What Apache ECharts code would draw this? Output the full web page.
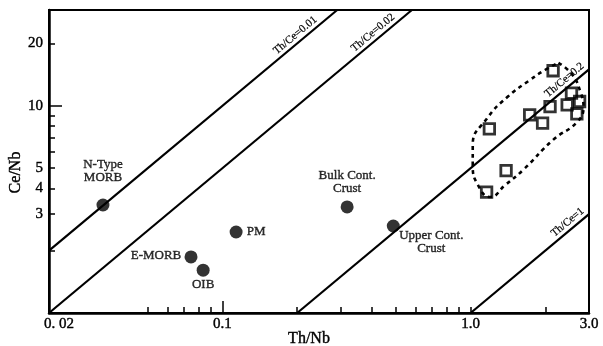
<!DOCTYPE html>
<html><head><meta charset="utf-8">
<script src="https://cdn.jsdelivr.net/npm/echarts@6/dist/echarts.min.js"></script>
<style>html,body{margin:0;padding:0;background:#fff}#c{width:603px;height:346px}</style>
</head><body><div id="c"></div>
<script>
const SERIF = "'Liberation Serif','Times New Roman',serif";

// Reference reservoirs
const refNames = ['N-Type\nMORB', 'E-MORB', 'OIB', 'PM', 'Bulk Cont.\nCrust', 'Upper Cont.\nCrust'];
const refThNb = [0.033, 0.0747, 0.0836, 0.1135, 0.318, 0.488];
const refCeNb = [3.32, 1.865, 1.61, 2.46, 3.25, 2.63];

// Samples (open squares)
const sampleThNb = [2.15, 2.55, 2.45, 2.75, 2.68, 2.09, 1.73, 1.95, 1.19, 1.39, 1.16];
const sampleCeNb = [14.76, 11.52, 10.1, 10.49, 9.15, 9.92, 9.05, 8.25, 7.74, 4.87, 3.83];

// Dotted field outline
const fieldThNb = [2.26, 2.57, 2.77, 2.85, 2.69, 2.15, 1.63, 1.38, 1.20, 1.07, 1.02, 1.02, 1.17, 1.41, 1.74, 2.0, 2.26];
const fieldCeNb = [16.13, 14.12, 11.68, 9.89, 8.37, 6.85, 4.91, 4.15, 3.63, 4.15, 5.19, 6.48, 8.75, 11.05, 13.36, 14.93, 16.13];

// Th/Ce reference lines
const ratioLabels = ['Th/Ce=0.01', 'Th/Ce=0.02', 'Th/Ce=0.2', 'Th/Ce=1'];
const ratioStartThNb = [0.02, 0.02, 0.2, 1];
const ratioStartCeNb = [2, 1, 1, 1];
const ratioEndThNb = [0.29, 0.58, 3, 3];
const ratioEndCeNb = [29, 29, 15, 3];

// Axis ticks / labels
const xTickValues = [0.05, 0.06, 0.07, 0.08, 0.09, 0.2, 0.3, 0.4, 0.5, 0.6, 0.7, 0.8, 0.9, 1, 2];
const xLongTickValues = [0.1];
const xLabelValues = [0.02, 0.1, 1, 3];
const xLabelTexts = ['0. 02', '0.1', '1.0', '3.0'];
const yTickValues = [2, 3, 4, 5, 6, 7, 8, 9, 20];
const yLongTickValues = [10];
const yLabelValues = [3, 4, 5, 10, 20];
const yLabelTexts = ['3', '4', '5', '10', '20'];

// label placement (style only)
const refLabelOffsets = [[0, -34], [-35, -1], [0, 14], [20, 0], [0, -25], [38, 16]];
const ratioLabelDist = [[22, 2], [18, 2], [2, 2], [2, 2]];

const X_MIN = 0.02, X_MAX = 3, Y_MIN = 1, Y_MAX = 29;

function findLabel(vals, texts, v) {
  for (let i = 0; i < vals.length; i++) if (Math.abs(vals[i] - v) / vals[i] < 1e-6) return texts[i];
  return '';
}

const txt = {color: '#000', fontFamily: SERIF, textBorderColor: '#000', textBorderWidth: 0.4};

const chart = echarts.init(document.getElementById('c'), null, {renderer: 'canvas'});
const baseX = {type: 'log', logBase: 10, min: X_MIN, max: X_MAX, splitLine: {show: false}, minorTick: {show: false}, minorSplitLine: {show: false}};
const baseY = {type: 'log', logBase: 10, min: Y_MIN, max: Y_MAX, splitLine: {show: false}, minorTick: {show: false}, minorSplitLine: {show: false}};

const option = {
  animation: false,
  backgroundColor: '#fff',
  grid: {left: 49, right: 14, top: 10, bottom: 33, show: true, borderColor: '#000', borderWidth: 2, containLabel: false, outerBoundsMode: 'none'},
  xAxis: [
    Object.assign({}, baseX, {
      position: 'bottom',
      axisLine: {show: true, lineStyle: {color: '#000', width: 2.5}},
      axisTick: {show: true, inside: true, length: 6, customValues: xTickValues, lineStyle: {color: '#000', width: 1.5}},
      axisLabel: Object.assign({show: true, customValues: xLabelValues, margin: 4, fontSize: 15,
        formatter: function (v) { const t = findLabel(xLabelValues, xLabelTexts, v); return v === xLabelValues[0] ? '{a|' + t + '}' : t; },
        rich: {a: Object.assign({fontSize: 15, padding: [0, 0, 0, 20]}, txt)}}, txt),
      name: 'Th/Nb', nameLocation: 'middle', nameGap: 18, nameMoveOverlap: false,
      nameTextStyle: Object.assign({fontSize: 16, padding: [0, 20, 0, 0]}, txt)
    }),
    Object.assign({}, baseX, {
      position: 'bottom',
      axisLine: {show: false},
      axisTick: {show: true, inside: true, length: 12, customValues: xLongTickValues, lineStyle: {color: '#000', width: 1.5}},
      axisLabel: {show: false}
    })
  ],
  yAxis: [
    Object.assign({}, baseY, {
      position: 'left',
      axisLine: {show: true, lineStyle: {color: '#000', width: 2.5}},
      axisTick: {show: true, inside: true, length: 6, customValues: yTickValues, lineStyle: {color: '#000', width: 1.5}},
      axisLabel: Object.assign({show: true, customValues: yLabelValues, margin: 6, fontSize: 15,
        formatter: function (v) { return findLabel(yLabelValues, yLabelTexts, v); }}, txt),
      name: 'Ce/Nb', nameLocation: 'middle', nameGap: 25, nameMoveOverlap: false,
      nameTextStyle: Object.assign({fontSize: 16, padding: [0, 22, 0, 0]}, txt)
    }),
    Object.assign({}, baseY, {
      position: 'left',
      axisLine: {show: false},
      axisTick: {show: true, inside: true, length: 13, customValues: yLongTickValues, lineStyle: {color: '#000', width: 1.5}},
      axisLabel: {show: false}
    })
  ],
  series: [
    {
      type: 'line', xAxisIndex: 0, yAxisIndex: 0, data: [], silent: true,
      markLine: {
        silent: true, symbol: ['none', 'none'], animation: false,
        lineStyle: {color: '#000', width: 2.2, type: 'solid'},
        label: Object.assign({show: true, position: 'insideEndTop', formatter: '{b}', fontSize: 11}, txt, {textBorderWidth: 0.2}),
        emphasis: {disabled: true},
        data: ratioLabels.map((name, i) => [
          {name: name, coord: [ratioStartThNb[i], ratioStartCeNb[i]], label: {distance: ratioLabelDist[i]}},
          {coord: [ratioEndThNb[i], ratioEndCeNb[i]]}
        ])
      }
    },
    {
      type: 'line', xAxisIndex: 0, yAxisIndex: 0, smooth: 0.5, symbol: 'none', silent: true,
      lineStyle: {color: '#000', width: 2.6, type: [4, 4]},
      data: fieldThNb.map((x, i) => [x, fieldCeNb[i]]), z: 3
    },
    {
      type: 'scatter', xAxisIndex: 0, yAxisIndex: 0, symbol: 'circle', symbolSize: 13, silent: true, z: 5,
      itemStyle: {color: '#000'},
      data: refThNb.map((x, i) => ({
        value: [x, refCeNb[i]], name: refNames[i],
        label: Object.assign({show: true, position: 'inside', offset: refLabelOffsets[i], formatter: '{b}',
          fontSize: 13, lineHeight: 13, align: 'center'}, txt)
      }))
    },
    {
      type: 'scatter', xAxisIndex: 0, yAxisIndex: 0, symbol: 'rect', symbolSize: 10.5, silent: true, z: 6,
      itemStyle: {color: 'rgba(0,0,0,0)', borderColor: '#000', borderWidth: 2.8},
      data: sampleThNb.map((x, i) => [x, sampleCeNb[i]])
    }
  ]
};
chart.setOption(option);
</script></body></html>
